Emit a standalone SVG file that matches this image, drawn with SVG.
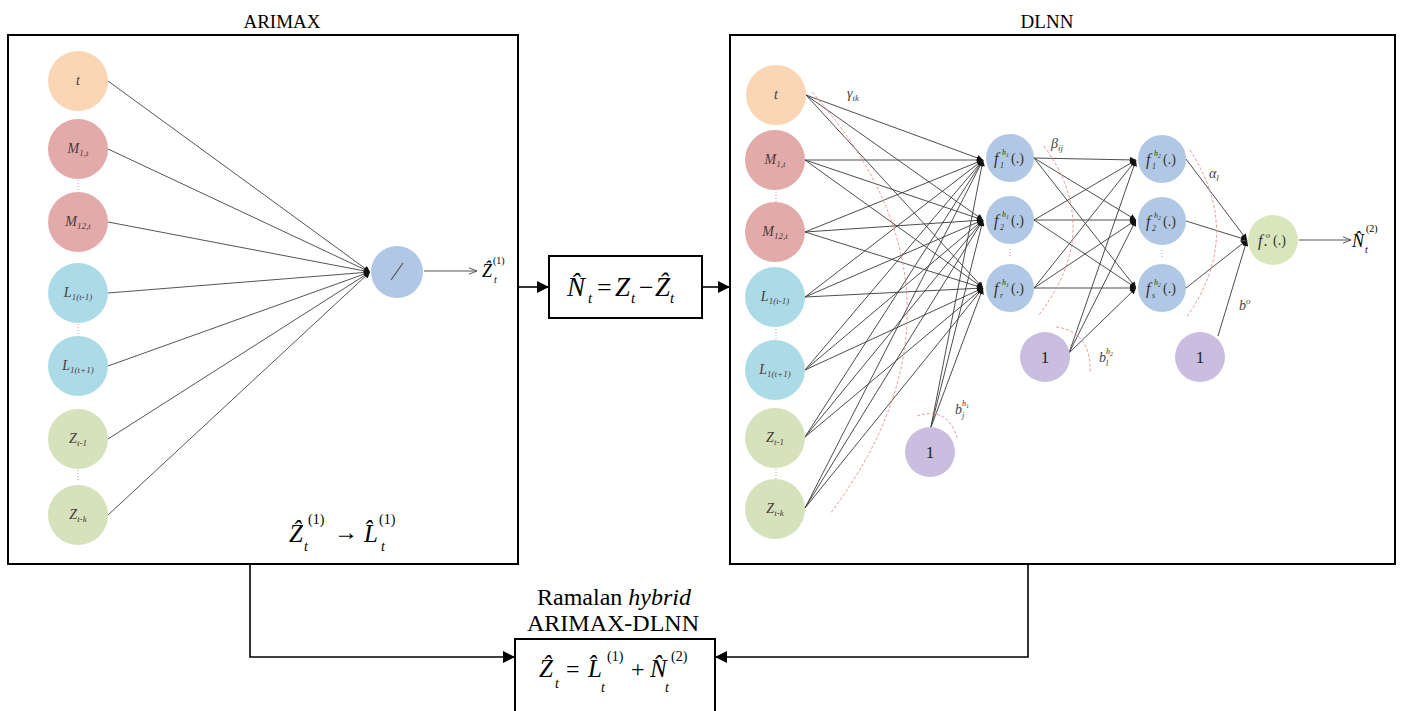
<svg xmlns="http://www.w3.org/2000/svg" width="1403" height="711" viewBox="0 0 1403 711">
  <defs>
    <marker id="tip" viewBox="0 0 10 10" refX="10" refY="5" markerWidth="7" markerHeight="6" markerUnits="userSpaceOnUse" orient="auto">
      <path d="M0,0 L10,5 L0,10 z" fill="#111"/>
    </marker>
    <marker id="open" viewBox="0 0 10 10" refX="10" refY="5" markerWidth="9" markerHeight="8" markerUnits="userSpaceOnUse" orient="auto">
      <path d="M0,1 L10,5 L0,9" fill="none" stroke="#555" stroke-width="1.2"/>
    </marker>
    <marker id="big" viewBox="0 0 10 10" refX="10" refY="5" markerWidth="14" markerHeight="12" markerUnits="userSpaceOnUse" orient="auto">
      <path d="M0,0 L10,5 L0,10 z" fill="#000"/>
    </marker>
  </defs>
  <style>
    .frame { fill: #fff; stroke: #000; stroke-width: 2; }
    .box { fill: #fff; stroke: #000; stroke-width: 2; }
    .flow { fill: none; stroke: #000; stroke-width: 1.6; marker-end: url(#big); }
    .w { stroke: #3a3a3a; stroke-width: 0.9; fill: none; marker-end: url(#tip); }
    .wl { stroke: #555; stroke-width: 1; fill: none; marker-end: url(#tip); }
    .out { stroke: #555; stroke-width: 1; fill: none; marker-end: url(#open); }
    .arc { fill: none; stroke: #e58a8a; stroke-width: 0.9; stroke-dasharray: 3 2; }
    .dots { stroke: #d9a8a8; stroke-width: 1.2; stroke-dasharray: 1 2; }
    .c-t { fill: #fad6b4; }
    .c-m { fill: #e3aaaa; }
    .c-l { fill: #acdbe8; }
    .c-z { fill: #d6e2bb; }
    .c-h { fill: #b0c8e5; }
    .c-o { fill: #d7e6bb; }
    .c-b { fill: #c9bde0; }
    .nl { font-family: "Liberation Serif", serif; font-style: italic; font-size: 14px; fill: #4a3a3a; text-anchor: middle; }
    .sub { font-size: 9px; }
    .fx { font-family: "Liberation Serif", serif; font-style: italic; fill: #333; }
    .fp { font-family: "Liberation Serif", serif; fill: #333; font-size: 14px; }
    .one { font-family: "Liberation Serif", serif; font-size: 17px; fill: #222; text-anchor: middle; }
    .wt { font-family: "Liberation Serif", serif; font-style: italic; font-size: 14px; fill: #444; }
    .title { font-family: "Liberation Serif", serif; font-size: 19px; fill: #000; text-anchor: middle; }
    .cap { font-family: "Liberation Serif", serif; font-size: 24px; fill: #000; text-anchor: middle; }
    .m { font-family: "Liberation Serif", serif; fill: #000; }
    .i { font-style: italic; }
  </style>

  <!-- panel titles -->
  <text class="title" x="282" y="28">ARIMAX</text>
  <text class="title" x="1047" y="28">DLNN</text>

  <!-- panel frames -->
  <rect id="arimax-panel" class="frame" x="8" y="35" width="510" height="529"/>
  <rect id="dlnn-panel" class="frame" x="730" y="35" width="665" height="529"/>

  <!-- connectors -->
  <g id="connectors">
    <!-- ARIMAX inputs to the linear node -->
    <line class="wl" x1="108" y1="81" x2="370" y2="272"/>
    <line class="wl" x1="108" y1="149" x2="370" y2="272"/>
    <line class="wl" x1="108" y1="222" x2="370" y2="272"/>
    <line class="wl" x1="108" y1="293" x2="370" y2="272"/>
    <line class="wl" x1="108" y1="366" x2="370" y2="272"/>
    <line class="wl" x1="108" y1="439" x2="370" y2="272"/>
    <line class="wl" x1="108" y1="515" x2="370" y2="272"/>
    <line class="out" x1="424" y1="271" x2="477" y2="271"/>

    <!-- DLNN inputs to hidden layer 1 -->
    <g>
      <line class="w" x1="806" y1="95" x2="983" y2="160"/>
      <line class="w" x1="806" y1="95" x2="983" y2="220"/>
      <line class="w" x1="806" y1="95" x2="983" y2="288"/>
      <line class="w" x1="805" y1="160" x2="983" y2="160"/>
      <line class="w" x1="805" y1="160" x2="983" y2="220"/>
      <line class="w" x1="805" y1="160" x2="983" y2="288"/>
      <line class="w" x1="805" y1="232" x2="983" y2="160"/>
      <line class="w" x1="805" y1="232" x2="983" y2="220"/>
      <line class="w" x1="805" y1="232" x2="983" y2="288"/>
      <line class="w" x1="805" y1="297" x2="983" y2="160"/>
      <line class="w" x1="805" y1="297" x2="983" y2="220"/>
      <line class="w" x1="805" y1="297" x2="983" y2="288"/>
      <line class="w" x1="805" y1="370" x2="983" y2="160"/>
      <line class="w" x1="805" y1="370" x2="983" y2="220"/>
      <line class="w" x1="805" y1="370" x2="983" y2="288"/>
      <line class="w" x1="805" y1="437" x2="983" y2="160"/>
      <line class="w" x1="805" y1="437" x2="983" y2="220"/>
      <line class="w" x1="805" y1="437" x2="983" y2="288"/>
      <line class="w" x1="805" y1="508" x2="983" y2="160"/>
      <line class="w" x1="805" y1="508" x2="983" y2="220"/>
      <line class="w" x1="805" y1="508" x2="983" y2="288"/>
      <!-- bias of hidden layer 1 -->
      <line class="w" x1="931" y1="427" x2="983" y2="160"/>
      <line class="w" x1="931" y1="427" x2="983" y2="220"/>
      <line class="w" x1="931" y1="427" x2="983" y2="288"/>
    </g>
    <!-- hidden layer 1 to hidden layer 2 -->
    <g>
      <line class="w" x1="1034" y1="158" x2="1136" y2="160"/>
      <line class="w" x1="1034" y1="158" x2="1136" y2="220"/>
      <line class="w" x1="1034" y1="158" x2="1136" y2="288"/>
      <line class="w" x1="1034" y1="220" x2="1136" y2="160"/>
      <line class="w" x1="1034" y1="220" x2="1136" y2="220"/>
      <line class="w" x1="1034" y1="220" x2="1136" y2="288"/>
      <line class="w" x1="1034" y1="288" x2="1136" y2="160"/>
      <line class="w" x1="1034" y1="288" x2="1136" y2="220"/>
      <line class="w" x1="1034" y1="288" x2="1136" y2="288"/>
      <!-- bias of hidden layer 2 -->
      <line class="w" x1="1069" y1="353" x2="1136" y2="160"/>
      <line class="w" x1="1069" y1="353" x2="1136" y2="220"/>
      <line class="w" x1="1069" y1="353" x2="1136" y2="288"/>
    </g>
    <!-- hidden layer 2 to output -->
    <line class="w" x1="1186" y1="159" x2="1247" y2="240"/>
    <line class="w" x1="1186" y1="221" x2="1247" y2="240"/>
    <line class="w" x1="1186" y1="288" x2="1247" y2="240"/>
    <line class="w" x1="1218" y1="336" x2="1247" y2="240"/>
    <line class="out" x1="1299" y1="240" x2="1351" y2="240"/>

    <!-- weight arcs -->
    <path class="arc" d="M812,92 Q993,297 830,514"/>
    <path class="arc" d="M1044,146 Q1105,230 1038,316"/>
    <path class="arc" d="M1190,150 Q1245,235 1186,318"/>
    <path class="arc" d="M917,416 Q948,406 957,438"/>
    <path class="arc" d="M1056,327 Q1092,332 1090,373"/>

    <!-- block flow -->
    <line class="flow" x1="519" y1="287" x2="549" y2="287"/>
    <line class="flow" x1="702" y1="287" x2="730" y2="287"/>
    <polyline class="flow" points="250,564 250,657 515,657"/>
    <polyline class="flow" points="1028,564 1028,657 715,657"/>
  </g>

  <!-- ellipsis dots between nodes -->
  <g id="ellipses">
    <line class="dots" x1="78" y1="180" x2="78" y2="192"/>
    <line class="dots" x1="78" y1="324" x2="78" y2="336"/>
    <line class="dots" x1="78" y1="470" x2="78" y2="482"/>
    <line class="dots" x1="776" y1="192" x2="776" y2="202"/>
    <line class="dots" x1="776" y1="329" x2="776" y2="339"/>
    <line class="dots" x1="776" y1="469" x2="776" y2="479"/>
    <line class="dots" x1="1010" y1="249" x2="1010" y2="258"/>
    <line class="dots" x1="1162" y1="250" x2="1162" y2="259"/>
  </g>

  <!-- ARIMAX input nodes -->
  <g id="a-t"><circle class="c-t" cx="78" cy="81" r="30"/><text class="nl" x="78" y="85">t</text></g>
  <g id="a-m1"><circle class="c-m" cx="78" cy="149" r="30"/><text class="nl" x="78" y="153">M<tspan class="sub" dy="3">1,t</tspan></text></g>
  <g id="a-m12"><circle class="c-m" cx="78" cy="222" r="30"/><text class="nl" x="78" y="226">M<tspan class="sub" dy="3">12,t</tspan></text></g>
  <g id="a-l1"><circle class="c-l" cx="78" cy="293" r="30"/><text class="nl" x="78" y="297">L<tspan class="sub" dy="3">1(t-1)</tspan></text></g>
  <g id="a-l2"><circle class="c-l" cx="78" cy="366" r="30"/><text class="nl" x="78" y="370">L<tspan class="sub" dy="3">1(t+1)</tspan></text></g>
  <g id="a-z1"><circle class="c-z" cx="78" cy="439" r="30"/><text class="nl" x="78" y="443">Z<tspan class="sub" dy="3">t-1</tspan></text></g>
  <g id="a-zk"><circle class="c-z" cx="78" cy="515" r="30"/><text class="nl" x="78" y="519">Z<tspan class="sub" dy="3">t-k</tspan></text></g>

  <!-- ARIMAX linear node -->
  <g id="a-lin">
    <circle class="c-h" cx="397" cy="272" r="26"/>
    <line x1="391" y1="280" x2="403" y2="263" stroke="#555" stroke-width="1.2"/>
  </g>
  <g id="a-out">
    <text class="m i" x="482" y="277" font-size="18">Ẑ</text>
    <text class="m i" x="494" y="283" font-size="10">t</text>
    <text class="m" x="493" y="264" font-size="10">(1)</text>
  </g>
  <g id="a-formula">
    <text class="m i" x="289" y="542" font-size="25">Ẑ</text>
    <text class="m i" x="304" y="551" font-size="14">t</text>
    <text class="m" x="308" y="524" font-size="14">(1)</text>
    <text class="m" x="334" y="540" font-size="24">→</text>
    <text class="m i" x="364" y="542" font-size="25">L̂</text>
    <text class="m i" x="381" y="551" font-size="14">t</text>
    <text class="m" x="379" y="524" font-size="14">(1)</text>
  </g>

  <!-- residual block -->
  <g id="residual">
    <rect class="box" x="549" y="256" width="153" height="62"/>
    <text class="m i" x="567" y="296" font-size="27">N̂</text>
    <text class="m i" x="588" y="303" font-size="15">t</text>
    <text class="m" x="597" y="296" font-size="26">=</text>
    <text class="m i" x="615" y="296" font-size="27">Z</text>
    <text class="m i" x="631" y="303" font-size="15">t</text>
    <text class="m" x="639" y="296" font-size="26">−</text>
    <text class="m i" x="655" y="296" font-size="27">Ẑ</text>
    <text class="m i" x="670" y="303" font-size="15">t</text>
  </g>

  <!-- DLNN input nodes -->
  <g id="d-t"><circle class="c-t" cx="776" cy="95" r="30"/><text class="nl" x="776" y="99">t</text></g>
  <g id="d-m1"><circle class="c-m" cx="775" cy="160" r="30"/><text class="nl" x="775" y="164">M<tspan class="sub" dy="3">1,t</tspan></text></g>
  <g id="d-m12"><circle class="c-m" cx="775" cy="232" r="30"/><text class="nl" x="775" y="236">M<tspan class="sub" dy="3">12,t</tspan></text></g>
  <g id="d-l1"><circle class="c-l" cx="775" cy="297" r="30"/><text class="nl" x="775" y="301">L<tspan class="sub" dy="3">1(t-1)</tspan></text></g>
  <g id="d-l2"><circle class="c-l" cx="775" cy="370" r="30"/><text class="nl" x="775" y="374">L<tspan class="sub" dy="3">1(t+1)</tspan></text></g>
  <g id="d-z1"><circle class="c-z" cx="775" cy="438" r="30"/><text class="nl" x="775" y="442">Z<tspan class="sub" dy="3">t-1</tspan></text></g>
  <g id="d-zk"><circle class="c-z" cx="775" cy="509" r="30"/><text class="nl" x="775" y="513">Z<tspan class="sub" dy="3">t-k</tspan></text></g>

  <!-- hidden layer 1 -->
  <g id="h1-1"><circle class="c-h" cx="1010" cy="158" r="24"/>
    <text class="fx" x="994" y="164" font-size="16">f</text><text class="fx" x="1000" y="168" font-size="8">1</text>
    <text class="fx" x="1002" y="155" font-size="8">h</text><text class="fx" x="1006" y="157" font-size="6">1</text>
    <text class="fp" x="1011" y="163">(.)</text></g>
  <g id="h1-2"><circle class="c-h" cx="1010" cy="220" r="24"/>
    <text class="fx" x="994" y="226" font-size="16">f</text><text class="fx" x="1000" y="230" font-size="8">2</text>
    <text class="fx" x="1002" y="217" font-size="8">h</text><text class="fx" x="1006" y="219" font-size="6">1</text>
    <text class="fp" x="1011" y="225">(.)</text></g>
  <g id="h1-r"><circle class="c-h" cx="1010" cy="288" r="24"/>
    <text class="fx" x="994" y="294" font-size="16">f</text><text class="fx" x="1000" y="298" font-size="8">r</text>
    <text class="fx" x="1002" y="285" font-size="8">h</text><text class="fx" x="1006" y="287" font-size="6">1</text>
    <text class="fp" x="1011" y="293">(.)</text></g>

  <!-- hidden layer 2 -->
  <g id="h2-1"><circle class="c-h" cx="1162" cy="159" r="24"/>
    <text class="fx" x="1146" y="165" font-size="16">f</text><text class="fx" x="1152" y="169" font-size="8">1</text>
    <text class="fx" x="1154" y="156" font-size="8">h</text><text class="fx" x="1158" y="158" font-size="6">2</text>
    <text class="fp" x="1163" y="164">(.)</text></g>
  <g id="h2-2"><circle class="c-h" cx="1162" cy="221" r="24"/>
    <text class="fx" x="1146" y="227" font-size="16">f</text><text class="fx" x="1152" y="231" font-size="8">2</text>
    <text class="fx" x="1154" y="218" font-size="8">h</text><text class="fx" x="1158" y="220" font-size="6">2</text>
    <text class="fp" x="1163" y="226">(.)</text></g>
  <g id="h2-s"><circle class="c-h" cx="1162" cy="288" r="24"/>
    <text class="fx" x="1146" y="294" font-size="16">f</text><text class="fx" x="1152" y="298" font-size="8">s</text>
    <text class="fx" x="1154" y="285" font-size="8">h</text><text class="fx" x="1158" y="287" font-size="6">2</text>
    <text class="fp" x="1163" y="293">(.)</text></g>

  <!-- output node -->
  <g id="out"><circle class="c-o" cx="1273" cy="240" r="25"/>
    <text class="fx" x="1258" y="246" font-size="16">f</text><text class="fx" x="1264" y="248" font-size="8">•</text>
    <text class="fx" x="1266" y="238" font-size="8">o</text>
    <text class="fp" x="1273" y="245">(.)</text></g>
  <g id="out-label">
    <text class="m i" x="1352" y="247" font-size="18">N̂</text>
    <text class="m i" x="1365" y="253" font-size="10">t</text>
    <text class="m" x="1366" y="232" font-size="10">(2)</text>
  </g>

  <!-- bias nodes -->
  <g id="b1"><circle class="c-b" cx="930" cy="452" r="25"/><text class="one" x="930" y="458">1</text></g>
  <g id="b2"><circle class="c-b" cx="1045" cy="357" r="25"/><text class="one" x="1045" y="363">1</text></g>
  <g id="bo"><circle class="c-b" cx="1200" cy="357" r="25"/><text class="one" x="1200" y="363">1</text></g>

  <!-- weight labels -->
  <g id="weights">
    <text class="wt" x="847" y="98">γ<tspan font-size="9" dy="3">tk</tspan></text>
    <text class="wt" x="1051" y="148">β<tspan font-size="9" dy="3">ij</tspan></text>
    <text class="wt" x="1209" y="178">α<tspan font-size="9" dy="3">l</tspan></text>
    <text class="wt" x="955" y="414">b</text>
    <text class="fx" x="962" y="418" font-size="8">j</text>
    <text class="fx" x="962" y="406" font-size="8">h</text>
    <text class="fx" x="966" y="408" font-size="6">1</text>
    <text class="wt" x="1099" y="362">b</text>
    <text class="fx" x="1106" y="366" font-size="8">l</text>
    <text class="fx" x="1106" y="354" font-size="8">h</text>
    <text class="fx" x="1110" y="356" font-size="6">2</text>
    <text class="wt" x="1239" y="310">b<tspan font-size="9" dy="-6">o</tspan></text>
  </g>

  <!-- hybrid forecast -->
  <g id="hybrid">
    <text class="cap" x="614" y="605">Ramalan <tspan font-style="italic">hybrid</tspan></text>
    <text class="cap" x="613" y="631">ARIMAX-DLNN</text>
    <rect class="box" x="515" y="639" width="200" height="80"/>
    <text class="m i" x="539" y="677" font-size="25">Ẑ</text>
    <text class="m i" x="555" y="688" font-size="14">t</text>
    <text class="m" x="566" y="677" font-size="24">=</text>
    <text class="m i" x="588" y="677" font-size="25">L̂</text>
    <text class="m i" x="601" y="692" font-size="14">t</text>
    <text class="m" x="607" y="661" font-size="14">(1)</text>
    <text class="m" x="631" y="677" font-size="24">+</text>
    <text class="m i" x="650" y="677" font-size="25">N̂</text>
    <text class="m i" x="665" y="692" font-size="14">t</text>
    <text class="m" x="671" y="661" font-size="14">(2)</text>
  </g>
</svg>
